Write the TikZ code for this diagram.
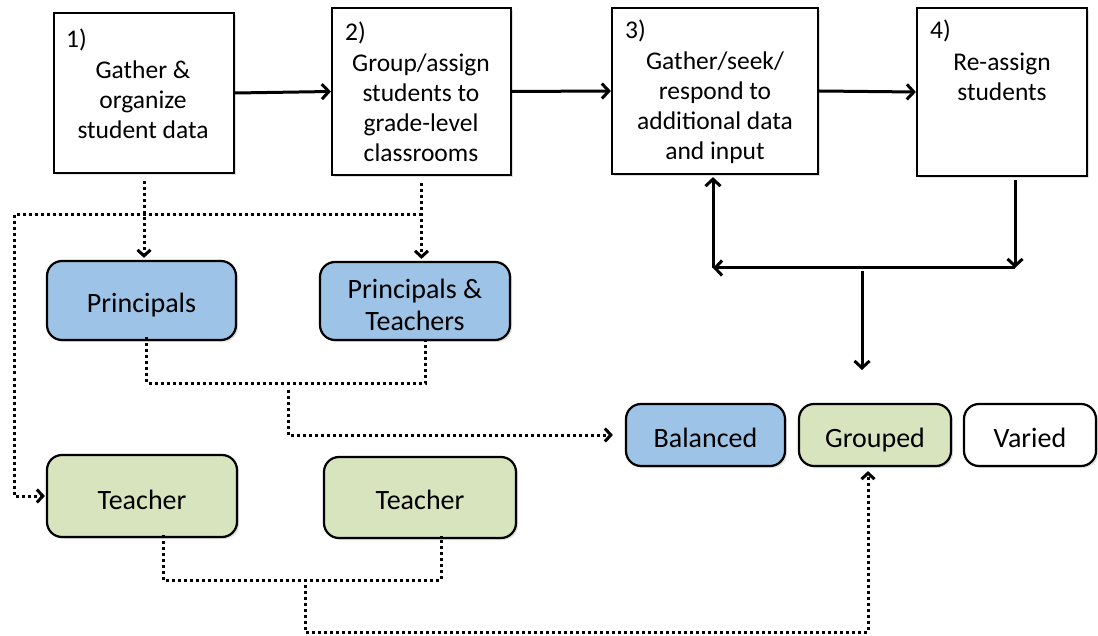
\documentclass[tikz,border=0pt]{standalone}
\usepackage{fontspec}
\setmainfont{Carlito}
\usetikzlibrary{arrows.meta,shadows}
\definecolor{boxblue}{RGB}{157,195,230}
\definecolor{boxgreen}{RGB}{216,228,190}
\tikzset{
  stepbox/.style={draw=black, line width=2.2pt, fill=white, inner sep=0pt,
    drop shadow={shadow xshift=2pt, shadow yshift=-2pt, opacity=0.25}},
  steptext/.style={align=center, inner sep=0pt, font=\fontsize{25.5}{30}\selectfont},
  stepnum/.style={anchor=west, inner sep=0pt, font=\fontsize{25.5}{30}\selectfont},
  who/.style={draw=black, line width=2.2pt, rounded corners=15pt, inner sep=0pt,
    drop shadow={shadow xshift=2pt, shadow yshift=-2pt, opacity=0.25}},
  whotext/.style={align=center, inner sep=0pt, font=\fontsize{28}{32}\selectfont},
  flow/.style={black, line width=3pt, -{Straight Barb[length=7pt,width=15pt,line width=3pt]}},
  link/.style={black, line width=3pt, dash pattern=on 3pt off 3pt,
    -{Straight Barb[length=6pt,width=13pt,line width=3pt]}}
}
\begin{document}
\begin{tikzpicture}[x=1pt, y=-1pt]
  \useasboundingbox (0,0) rectangle (1098,636);
  \node [stepbox, minimum width=180pt, minimum height=160pt] (s1) at (144,93) {};
  \node [stepbox, minimum width=179pt, minimum height=167pt] (s2) at (421.5,91.5) {};
  \node [stepbox, minimum width=206pt, minimum height=166pt] (s3) at (715,91) {};
  \node [stepbox, minimum width=170pt, minimum height=168pt] (s4) at (1002,92) {};
  \node [stepnum] (n1) at (66,40) {1)};
  \node [stepnum] (n2) at (345,33) {2)};
  \node [stepnum] (n3) at (625,31) {3)};
  \node [stepnum] (n4) at (930,31) {4)};
  \node [steptext] (t1) at (143,100) {Gather \&\\organize\\student data};
  \node [steptext] (t2) at (421,108) {Group/assign\\students to\\grade-level\\classrooms};
  \node [steptext] (t3) at (715,108) {Gather/seek/\\respond to\\additional data\\and input};
  \node [steptext] (t4) at (1002,77) {Re-assign\\students};
  \node [who, fill=boxblue, minimum width=189pt, minimum height=79pt] (pr) at (141.5,300.5) {};
  \node [who, fill=boxblue, minimum width=190pt, minimum height=78pt] (pt) at (415,301) {};
  \node [who, fill=boxgreen, minimum width=190pt, minimum height=82pt] (te1) at (142,496) {};
  \node [who, fill=boxgreen, minimum width=192pt, minimum height=81pt] (te2) at (420,497.5) {};
  \node [who, fill=boxblue, minimum width=159pt, minimum height=62pt] (ba) at (705.5,435) {};
  \node [who, fill=boxgreen, minimum width=152pt, minimum height=62pt] (gr) at (875,435) {};
  \node [who, fill=white, minimum width=132pt, minimum height=62pt] (va) at (1030,435) {};
  \node [whotext] (prt) at ([yshift=-5pt]pr.center) {Principals};
  \node [whotext] (ptt) at ([yshift=-4pt]pt.center) {Principals \&\\Teachers};
  \node [whotext] (te1t) at ([yshift=-4pt]te1.center) {Teacher};
  \node [whotext] (te2t) at ([yshift=-2pt]te2.center) {Teacher};
  \node [whotext] (bat) at ([yshift=-3pt]ba.center) {Balanced};
  \node [whotext] (grt) at ([yshift=-5pt]gr.center) {Grouped};
  \node [whotext] (vat) at ([yshift=-3pt]va.center) {Varied};

  \draw [flow] (s1.east) -- (s2.west);
  \draw [flow] (s2.east) -- (s3.west);
  \draw [flow] (s3.east) -- (s4.west);
  \coordinate (fb) at (1015,268);
  \coordinate (fl) at (713,268);
  \coordinate (fm) at (862,268);
  \coordinate (fe) at (862,370);
  \draw [flow, shorten <=3pt] (s4.south -| fb) -- (fb);
  \draw [flow] (fb) -- (fl);
  \draw [flow, shorten >=2pt] (fl) -- (s3.south -| fl);
  \draw [flow, shorten <=3pt] (fm) -- (fe);

  \coordinate (d0) at (14,215);
  \draw [link, shorten <=7pt, shorten >=2pt] (s1.south) -- (s1.south |- pr.north);
  \draw [link, shorten <=7pt, shorten >=2pt] (s2.south) -- (s2.south |- pt.north);
  \draw [link, shorten >=1pt] (s2.south |- d0) -- (d0) -- (d0 |- te1.west) -- (te1.west);
  \coordinate (j1) at (288,390);
  \draw [link, -] ([xshift=5pt, yshift=4pt]pr.south) -- ++(0,46) -| ([xshift=10pt, yshift=4pt]pt.south);
  \draw [link, shorten >=12pt] (j1) -- (j1 |- ba.west) -- (ba.west);
  \coordinate (j2) at (305,585);
  \draw [link, -] ([xshift=21pt, yshift=3pt]te1.south) -- ++(0,45) -| ([xshift=21pt, yshift=3pt]te2.south);
  \draw [link, shorten >=4pt] (j2) -- ++(0,47) -| ([xshift=-7pt]gr.south);
\end{tikzpicture}
\end{document}
